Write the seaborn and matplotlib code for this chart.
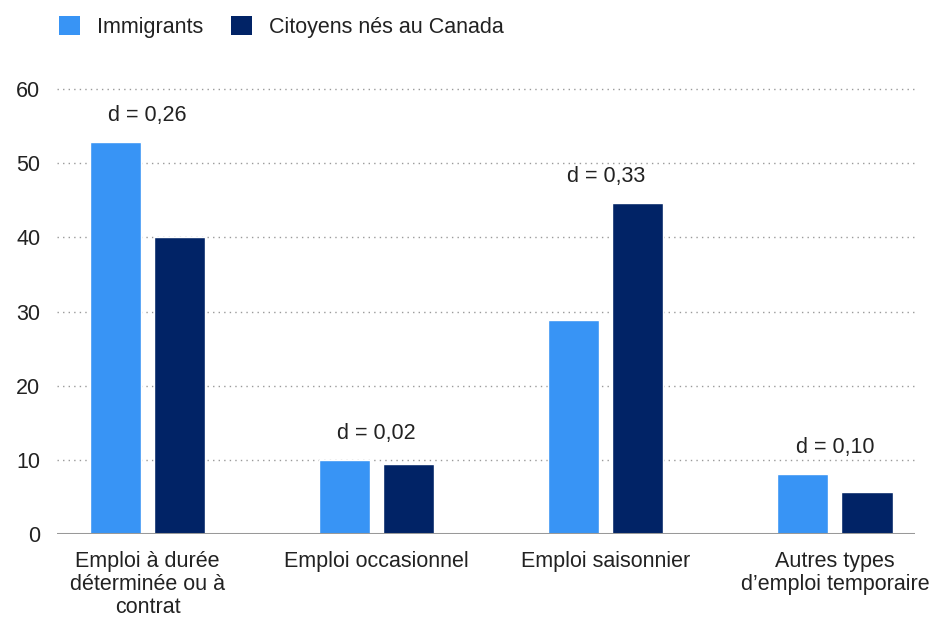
import matplotlib
matplotlib.use("Agg")
import matplotlib.pyplot as plt
import seaborn as sns
import pandas as pd
from matplotlib.patches import Patch

categories = ["Emploi à durée\ndéterminée ou à\ncontrat", "Emploi occasionnel",
              "Emploi saisonnier", "Autres types\nd’emploi temporaire"]
immigrants = [52.9, 10.0, 28.9, 8.1]
canadiens = [40.0, 9.4, 44.6, 5.7]
d_labels = ["d = 0,26", "d = 0,02", "d = 0,33", "d = 0,10"]
series = ["Immigrants", "Citoyens nés au Canada"]
colors = ["#3894F5", "#012366"]
yticks = [0, 10, 20, 30, 40, 50, 60]

df = pd.DataFrame({
    "cat": categories * 2,
    "val": immigrants + canadiens,
    "grp": [series[0]] * 4 + [series[1]] * 4,
})

sns.set_style("white")
plt.rcParams["font.family"] = ["Liberation Sans", "DejaVu Sans"]
FS = 15.5

fig = plt.figure(figsize=(9.32, 6.2), dpi=100)
ax = fig.add_axes([57/932, 1-534/620, (915-57)/932, (534-89)/620])

sns.barplot(data=df, x="cat", y="val", hue="grp", palette=colors,
            width=0.56, gap=0.2, ax=ax, legend=False, saturation=1)

ax.set_ylim(0, 60)
ax.set_xlim(-0.395, 3.35)
ax.set_yticks(yticks)
ax.set_yticklabels([str(t) for t in yticks])
for t in yticks[1:]:
    ax.axhline(t, color="#9a9a9a", lw=1.0, ls=(0, (1, 3)), zorder=0, clip_on=False)
ax.axhline(0, color="#999999", lw=2.2, zorder=3)
for s in ax.spines.values():
    s.set_visible(False)
ax.set_xlabel("")
ax.set_ylabel("")
ax.tick_params(axis="both", length=0, labelsize=FS, colors="#222222")
ax.tick_params(axis="x", pad=12)
ax.tick_params(axis="y", pad=12)
for lbl in ax.get_xticklabels():
    lbl.set_linespacing(1.15)

for i, lab in enumerate(d_labels):
    top = max(immigrants[i], canadiens[i])
    ax.annotate(lab, xy=(i, top), xytext=(0, 19), textcoords="offset points",
                ha="center", va="center", fontsize=FS, color="#222222")

handles = [Patch(facecolor=c, edgecolor="none") for c in colors]
fig.legend(handles, series, loc="upper left", bbox_to_anchor=(59/932, 1-16/620),
           ncol=2, frameon=False, fontsize=FS, handlelength=0.97, handleheight=0.97,
           handletextpad=0.78, columnspacing=1.3, borderpad=0, borderaxespad=0,
           labelcolor="#222222")

fig.savefig("out.png", dpi=100)
